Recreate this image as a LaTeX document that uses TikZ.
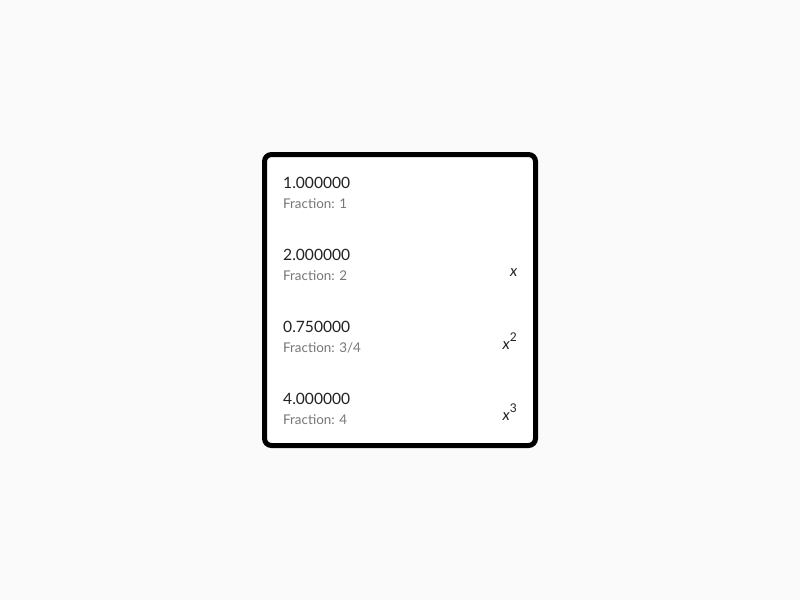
\documentclass[tikz,border=0pt]{standalone}
\usepackage{fontspec}
\setmainfont{Lato}
\definecolor{bg}{HTML}{FAFAFA}
\definecolor{valc}{HTML}{222222}
\definecolor{fracc}{HTML}{777777}
\begin{document}
\begin{tikzpicture}[x=1pt,y=-1pt,
  val/.style={anchor=base west,inner sep=0pt,text=valc,font=\fontsize{15.6}{18}\selectfont},
  frac/.style={anchor=base west,inner sep=0pt,text=fracc,font=\fontsize{13.4}{15}\selectfont},
  pow/.style={anchor=base east,inner sep=0pt,text=valc,font=\fontsize{15.5}{18}\selectfont}]
\fill[bg] (0,0) rectangle (800,600);
\useasboundingbox (0,0) rectangle (800,600);
\draw[line width=5pt,fill=white,rounded corners=7pt] (264.5,154.5) rectangle (535.5,445.5);
\node[val] (v1) at (283,188) {1.000000};
\node[frac] (f1) at (283,208) {Fraction: 1};
\node[val] (v2) at (283,260) {2.000000};
\node[frac] (f2) at (283,280) {Fraction: 2};
\node[pow] (p2) at (517.5,276) {\itshape x};
\node[val] (v3) at (283,332) {0.750000};
\node[frac] (f3) at (283,352) {Fraction: 3/4};
\node[pow] (p3) at (517,349) {{\itshape x}\raisebox{0.5em}{\fontsize{12}{14}\selectfont 2}};
\node[val] (v4) at (283,404) {4.000000};
\node[frac] (f4) at (283,424) {Fraction: 4};
\node[pow] (p4) at (517,420) {{\itshape x}\raisebox{0.5em}{\fontsize{12}{14}\selectfont 3}};
\end{tikzpicture}
\end{document}
